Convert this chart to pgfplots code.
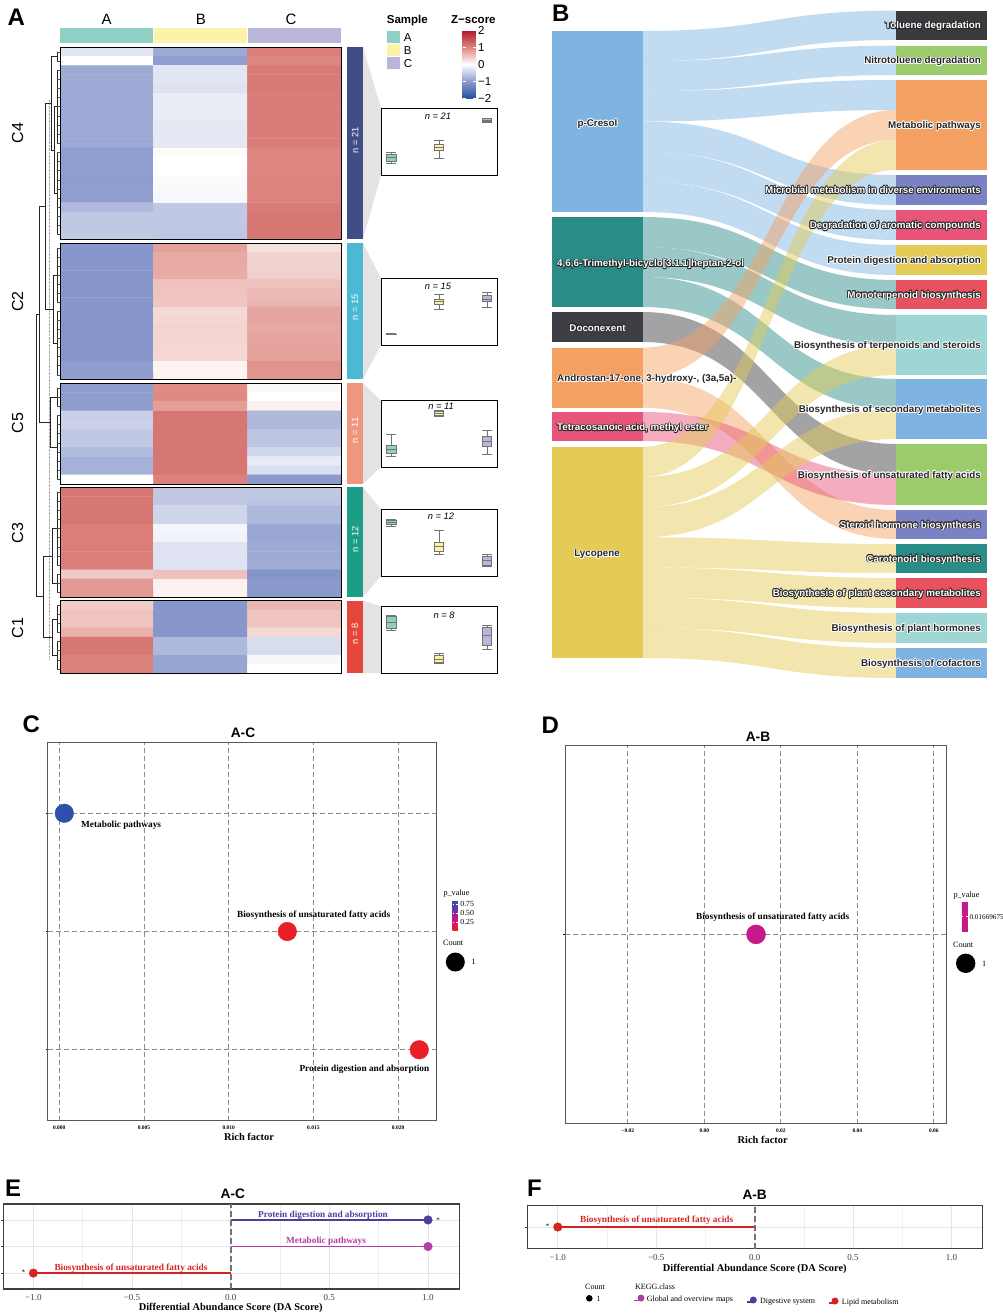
\documentclass[border=0pt]{standalone}
\usepackage{fontspec}
\setmainfont{Liberation Sans}
\newfontfamily\tnr{Liberation Serif}
\usepackage{pgfplots}
\pgfplotsset{compat=1.18}
\usepgfplotslibrary{statistics}

% heatmap / annotation colours
\definecolor{cA}{RGB}{142,208,196}
\definecolor{cB}{RGB}{252,243,168}
\definecolor{cC}{RGB}{186,182,218}
\definecolor{k4}{RGB}{65,78,134}
\definecolor{k2}{RGB}{76,185,212}
\definecolor{k5}{RGB}{240,149,126}
\definecolor{k3}{RGB}{27,158,133}
\definecolor{k1}{RGB}{229,71,58}
% sankey colours
\definecolor{sBlue}{RGB}{126,179,226}
\definecolor{sTeal}{RGB}{42,140,135}
\definecolor{sDark}{RGB}{62,63,69}
\definecolor{sOrange}{RGB}{244,160,98}
\definecolor{sPink}{RGB}{232,84,122}
\definecolor{sYellow}{RGB}{227,203,85}
\definecolor{sGreen}{RGB}{156,203,108}
\definecolor{sPurple}{RGB}{123,130,195}
\definecolor{sRed}{RGB}{232,82,95}
\definecolor{sCyan}{RGB}{158,214,214}
\definecolor{sTol}{RGB}{58,58,62}
% lollipop colours
\definecolor{lP}{RGB}{74,63,160}
\definecolor{lM}{RGB}{180,60,166}
\definecolor{lL}{RGB}{212,35,35}
\definecolor{cMg}{RGB}{200,25,138}

\pgfplotsset{
  colormap={zs}{rgb255=(33,80,160) rgb255=(140,155,205) rgb255=(255,255,255) rgb255=(222,135,128) rgb255=(178,24,43)},
  colormap={pv}{rgb255=(232,30,40) rgb255=(205,20,130) rgb255=(110,50,160) rgb255=(45,80,170)},
  pix/.style={at={(0pt,0pt)}, anchor=north west, scale only axis, width=1003pt, height=1315pt,
    xmin=0, xmax=1003, ymin=-1315, ymax=0, hide axis, clip=false, enlargelimits=false},
  hm/.style={anchor=north west, scale only axis, width=281pt, xmin=-0.5, xmax=2.5, ymax=-0.5,
    xtick=\empty, ytick=\empty, enlargelimits=false, axis on top,
    axis line style={black, line width=1pt}, colormap name=zs, point meta min=-2, point meta max=2},
  bx/.style={anchor=south west, scale only axis, width=116pt, xmin=0.79, xmax=3.21, ymin=0,
    xtick=\empty, ytick=\empty, enlargelimits=false, axis line style={black, line width=1pt}, clip=false,
    boxplot/draw direction=y, boxplot/box extend=0.2, boxplot/whisker extend=0.2},
  hmplot/.style={matrix plot*, mesh/cols=3, point meta=explicit},
  dd/.style={black!85, line width=0.6pt},
}

\newcommand{\rect}[5]{\addplot[fill=#5, draw=none] coordinates {(#1,-#2) (#3,-#2) (#3,-#4) (#1,-#4)} -- cycle;}
\newcommand{\rib}[5]{\fill[#5, fill opacity=0.48] (axis cs:642.5,-#1) .. controls (axis cs:770,-#1) and (axis cs:770,-#3) .. (axis cs:896,-#3) -- (axis cs:896,-#4) .. controls (axis cs:770,-#4) and (axis cs:770,-#2) .. (axis cs:642.5,-#2) -- cycle;}
\newcommand{\trap}[4]{\addplot[fill=black!11, draw=none] coordinates {(363,-#1) (381,-#3) (381,-#4) (363,-#2)} -- cycle;}
\newcommand{\bp}[7]{\addplot[draw=black!55, line width=0.6pt, fill=#7, boxplot prepared={draw position=#1, lower whisker=#2, lower quartile=#3, median=#4, upper quartile=#5, upper whisker=#6}] coordinates {};}
\newcommand{\sk}{\fontsize{9.8}{11}\selectfont\bfseries}
\newcommand{\halo}[6]{%
  \foreach \a in {0,30,...,330}{%
    \node[font=\sk, text=#4, anchor=#3, inner sep=0pt, shift={(\a:0.7pt)}] at (#1pt,-#2pt) {#6};}%
  \node[font=\sk, text=#5, anchor=#3, inner sep=0pt] at (#1pt,-#2pt) {#6};}

\begin{document}
\begin{tikzpicture}
\useasboundingbox (0,0) rectangle (1003pt,-1315pt);

% ---------- pixel layer: dendrogram, annotations, sankey ----------
\begin{axis}[pix]
% dendrogram
\addplot[black!35, line width=0.4pt, densely dotted] coordinates {(49,-100) (49,-660)};
\addplot[dd] coordinates {(57,-51.9) (57,-61.0)};
\addplot[dd] coordinates {(57,-70.1) (57,-143.3)};
\addplot[dd] coordinates {(57,-152.4) (57,-234.7)};
\addplot[dd] coordinates {(57,-247.8) (57,-302.3)};
\addplot[dd] coordinates {(57,-311.3) (57,-374.8)};
\addplot[dd] coordinates {(57,-387.9) (57,-406.2)};
\addplot[dd] coordinates {(57,-415.3) (57,-479.4)};
\addplot[dd] coordinates {(57,-491.9) (57,-565.2)};
\addplot[dd] coordinates {(57,-574.3) (57,-592.7)};
\addplot[dd] coordinates {(57,-605.2) (57,-632.5)};
\addplot[dd] coordinates {(57,-641.6) (57,-668.8)};
\addplot[dd] coordinates {(57,-106.7) (54,-106.7) (54,-193.5) (57,-193.5)};
\addplot[dd] coordinates {(57,-56.5) (51,-56.5) (51,-150.1) (54,-150.1)};
\addplot[dd] coordinates {(57,-275.05) (53,-275.05) (53,-343.05) (57,-343.05)};
\addplot[dd] coordinates {(57,-397.05) (50,-397.05) (50,-447.35) (57,-447.35)};
\addplot[dd] coordinates {(57,-528.55) (52,-528.55) (52,-583.5) (57,-583.5)};
\addplot[dd] coordinates {(57,-618.85) (52,-618.85) (52,-655.2) (57,-655.2)};
\addplot[dd] coordinates {(51,-103.3) (45,-103.3) (45,-309) (53,-309)};
\addplot[dd] coordinates {(45,-206.2) (39,-206.2) (39,-422.2) (50,-422.2)};
\addplot[dd] coordinates {(52,-556) (43,-556) (43,-637) (52,-637)};
\addplot[dd] coordinates {(39,-314.2) (36,-314.2) (36,-596.5) (43,-596.5)};
\addplot[only marks, mark=-, mark size=1.6pt, black!70, mark options={line width=0.5pt}] coordinates {
(58.5,-51.9) (58.5,-61.0) (58.5,-70.1) (58.5,-79.3) (58.5,-88.4) (58.5,-97.6) (58.5,-106.7) (58.5,-115.9) (58.5,-125.0) (58.5,-134.1) (58.5,-143.3) (58.5,-152.4) (58.5,-161.6) (58.5,-170.7) (58.5,-179.9) (58.5,-189.0) (58.5,-198.1) (58.5,-207.3) (58.5,-216.4) (58.5,-225.6) (58.5,-234.7)
(58.5,-247.8) (58.5,-256.9) (58.5,-266.0) (58.5,-275.1) (58.5,-284.1) (58.5,-293.2) (58.5,-302.3) (58.5,-311.3) (58.5,-320.4) (58.5,-329.5) (58.5,-338.5) (58.5,-347.6) (58.5,-356.7) (58.5,-365.7) (58.5,-374.8)
(58.5,-387.9) (58.5,-397.0) (58.5,-406.2) (58.5,-415.3) (58.5,-424.5) (58.5,-433.6) (58.5,-442.8) (58.5,-452.0) (58.5,-461.1) (58.5,-470.3) (58.5,-479.4)
(58.5,-491.9) (58.5,-501.1) (58.5,-510.2) (58.5,-519.4) (58.5,-528.5) (58.5,-537.7) (58.5,-546.9) (58.5,-556.0) (58.5,-565.2) (58.5,-574.3) (58.5,-583.5) (58.5,-592.7)
(58.5,-605.2) (58.5,-614.3) (58.5,-623.4) (58.5,-632.5) (58.5,-641.6) (58.5,-650.7) (58.5,-659.8) (58.5,-668.8)};
% column annotation
\rect{60.3}{28.3}{152.7}{43.3}{cA}
\rect{154}{28.3}{246.7}{43.3}{cB}
\rect{248}{28.3}{340.5}{43.3}{cC}
% row annotation
\rect{346.7}{47.3}{362.7}{239.3}{k4}
\rect{346.7}{243.3}{362.7}{379.3}{k2}
\rect{346.7}{383.3}{362.7}{484}{k5}
\rect{346.7}{487.3}{362.7}{597.3}{k3}
\rect{346.7}{600.7}{362.7}{673.3}{k1}
\trap{47.3}{239.3}{108.3}{175}
\trap{243.3}{379.3}{278.3}{345}
\trap{383.3}{484}{400.7}{467}
\trap{487.3}{597.3}{509.3}{576}
\trap{600.7}{673.3}{606.3}{673}
% sankey ribbons
\rib{31}{61.2}{10.7}{40}{sBlue}
\rib{61.2}{91.3}{45.7}{75}{sBlue}
\rib{91.3}{121.5}{80}{110}{sBlue}
\rib{121.5}{151.7}{175}{205}{sBlue}
\rib{151.7}{181.8}{210}{240}{sBlue}
\rib{181.8}{212}{245}{275}{sBlue}
\rib{217}{247}{280}{309}{sTeal}
\rib{247}{277}{315}{345}{sTeal}
\rib{277}{307}{379}{409}{sTeal}
\rib{312}{342}{444}{474.5}{sDark}
\rib{347.7}{377.7}{110}{140}{sOrange}
\rib{377.7}{407.7}{510}{539}{sOrange}
\rib{412}{441}{474.5}{505}{sPink}
\rib{446.7}{476.9}{140}{170}{sYellow}
\rib{476.9}{507.1}{345}{375}{sYellow}
\rib{507.1}{537.2}{409}{439}{sYellow}
\rib{537.2}{567.4}{544}{573}{sYellow}
\rib{567.4}{597.6}{578}{608}{sYellow}
\rib{597.6}{627.8}{613}{643}{sYellow}
\rib{627.8}{658}{648}{678}{sYellow}
% sankey nodes
\rect{552.3}{31}{642.5}{212}{sBlue}
\rect{552.3}{217}{642.5}{307}{sTeal}
\rect{552.3}{312}{642.5}{342}{sDark}
\rect{552.3}{347.7}{642.5}{407.7}{sOrange}
\rect{552.3}{412}{642.5}{441}{sPink}
\rect{552.3}{446.7}{642.5}{658}{sYellow}
\rect{896}{10.7}{987}{40}{sTol}
\rect{896}{45.7}{987}{75}{sGreen}
\rect{896}{80}{987}{170}{sOrange}
\rect{896}{175}{987}{205}{sPurple}
\rect{896}{210}{987}{240}{sPink}
\rect{896}{245}{987}{275}{sYellow}
\rect{896}{280}{987}{309}{sRed}
\rect{896}{315}{987}{375}{sCyan}
\rect{896}{379}{987}{439}{sBlue}
\rect{896}{444}{987}{505}{sGreen}
\rect{896}{510}{987}{539}{sPurple}
\rect{896}{544}{987}{573}{sTeal}
\rect{896}{578}{987}{608}{sRed}
\rect{896}{613}{987}{643}{sCyan}
\rect{896}{648}{987}{678}{sBlue}
\end{axis}

% ---------- heatmap blocks ----------
\begin{axis}[hm, at={(60pt,-47.3pt)}, height=192pt, ymin=-21.5,
  colorbar, colorbar style={at={(parent axis.north east)}, anchor=north west, xshift=113pt, yshift=16.8pt,
    width=13pt, height=68pt, scale only axis, ytick={-2,-1,0,1,2}, yticklabels={−2,−1,0,1,2},
    ytick pos=both, yticklabel pos=right, axis line style={draw=none}, ytick style={draw=white, line width=0.8pt},
    major tick length=3pt, yticklabel style={font=\fontsize{11.5}{12}\selectfont, xshift=-1pt}}]
\addplot[hmplot] table[meta=c, row sep=\\] {x y c\\
0 -1 -0.25\\ 1 -1 -0.85\\ 2 -1 1.08\\
0 -2 0.00\\ 1 -2 -0.97\\ 2 -2 1.00\\
0 -3 -0.85\\ 1 -3 -0.25\\ 2 -3 1.12\\
0 -4 -0.85\\ 1 -4 -0.25\\ 2 -4 1.12\\
0 -5 -0.86\\ 1 -5 -0.28\\ 2 -5 1.12\\
0 -6 -0.86\\ 1 -6 -0.18\\ 2 -6 1.10\\
0 -7 -0.86\\ 1 -7 -0.18\\ 2 -7 1.10\\
0 -8 -0.86\\ 1 -8 -0.18\\ 2 -8 1.10\\
0 -9 -0.86\\ 1 -9 -0.22\\ 2 -9 1.10\\
0 -10 -0.86\\ 1 -10 -0.22\\ 2 -10 1.10\\
0 -11 -0.86\\ 1 -11 -0.22\\ 2 -11 1.10\\
0 -12 -0.97\\ 1 -12 0.03\\ 2 -12 1.02\\
0 -13 -0.97\\ 1 -13 0.00\\ 2 -13 1.00\\
0 -14 -0.97\\ 1 -14 0.00\\ 2 -14 1.02\\
0 -15 -0.99\\ 1 -15 -0.04\\ 2 -15 1.04\\
0 -16 -0.97\\ 1 -16 -0.05\\ 2 -16 1.04\\
0 -17 -0.97\\ 1 -17 -0.07\\ 2 -17 1.04\\
0 -18 -0.70\\ 1 -18 -0.55\\ 2 -18 1.12\\
0 -19 -0.55\\ 1 -19 -0.55\\ 2 -19 1.15\\
0 -20 -0.55\\ 1 -20 -0.55\\ 2 -20 1.15\\
0 -21 -0.55\\ 1 -21 -0.57\\ 2 -21 1.15\\
};
\end{axis}
\begin{axis}[hm, at={(60pt,-243.3pt)}, height=136pt, ymin=-15.5]
\addplot[hmplot] table[meta=c, row sep=\\] {x y c\\
0 -1 -1.05\\ 1 -1 0.78\\ 2 -1 0.25\\
0 -2 -1.05\\ 1 -2 0.72\\ 2 -2 0.38\\
0 -3 -1.05\\ 1 -3 0.72\\ 2 -3 0.38\\
0 -4 -1.05\\ 1 -4 0.70\\ 2 -4 0.40\\
0 -5 -1.05\\ 1 -5 0.52\\ 2 -5 0.52\\
0 -6 -1.05\\ 1 -6 0.50\\ 2 -6 0.57\\
0 -7 -1.05\\ 1 -7 0.48\\ 2 -7 0.60\\
0 -8 -1.05\\ 1 -8 0.32\\ 2 -8 0.75\\
0 -9 -1.05\\ 1 -9 0.34\\ 2 -9 0.75\\
0 -10 -1.05\\ 1 -10 0.36\\ 2 -10 0.72\\
0 -11 -1.05\\ 1 -11 0.36\\ 2 -11 0.75\\
0 -12 -1.05\\ 1 -12 0.34\\ 2 -12 0.77\\
0 -13 -1.05\\ 1 -13 0.34\\ 2 -13 0.77\\
0 -14 -0.98\\ 1 -14 0.10\\ 2 -14 0.90\\
0 -15 -0.98\\ 1 -15 0.10\\ 2 -15 0.90\\
};
\end{axis}
\begin{axis}[hm, at={(60pt,-383.3pt)}, height=100.7pt, ymin=-11.5]
\addplot[hmplot] table[meta=c, row sep=\\] {x y c\\
0 -1 -0.98\\ 1 -1 0.95\\ 2 -1 0.05\\
0 -2 -0.98\\ 1 -2 0.97\\ 2 -2 0.00\\
0 -3 -0.98\\ 1 -3 0.82\\ 2 -3 0.12\\
0 -4 -0.48\\ 1 -4 1.15\\ 2 -4 -0.70\\
0 -5 -0.45\\ 1 -5 1.15\\ 2 -5 -0.70\\
0 -6 -0.55\\ 1 -6 1.15\\ 2 -6 -0.58\\
0 -7 -0.55\\ 1 -7 1.15\\ 2 -7 -0.58\\
0 -8 -0.68\\ 1 -8 1.15\\ 2 -8 -0.40\\
0 -9 -0.78\\ 1 -9 1.15\\ 2 -9 -0.20\\
0 -10 -0.78\\ 1 -10 1.15\\ 2 -10 -0.32\\
0 -11 0.00\\ 1 -11 1.05\\ 2 -11 -1.00\\
};
\end{axis}
\begin{axis}[hm, at={(60pt,-487.3pt)}, height=110pt, ymin=-12.5]
\addplot[hmplot] table[meta=c, row sep=\\] {x y c\\
0 -1 1.15\\ 1 -1 -0.55\\ 2 -1 -0.55\\
0 -2 1.15\\ 1 -2 -0.55\\ 2 -2 -0.58\\
0 -3 1.15\\ 1 -3 -0.42\\ 2 -3 -0.70\\
0 -4 1.15\\ 1 -4 -0.42\\ 2 -4 -0.70\\
0 -5 1.08\\ 1 -5 -0.10\\ 2 -5 -0.88\\
0 -6 1.08\\ 1 -6 -0.12\\ 2 -6 -0.88\\
0 -7 1.08\\ 1 -7 -0.28\\ 2 -7 -0.85\\
0 -8 1.08\\ 1 -8 -0.28\\ 2 -8 -0.85\\
0 -9 1.08\\ 1 -9 -0.28\\ 2 -9 -0.83\\
0 -10 0.45\\ 1 -10 0.52\\ 2 -10 -1.08\\
0 -11 0.85\\ 1 -11 0.12\\ 2 -11 -1.02\\
0 -12 0.85\\ 1 -12 0.12\\ 2 -12 -1.02\\
};
\end{axis}
\begin{axis}[hm, at={(60pt,-600.7pt)}, height=72.6pt, ymin=-8.5]
\addplot[hmplot] table[meta=c, row sep=\\] {x y c\\
0 -1 0.42\\ 1 -1 -1.05\\ 2 -1 0.60\\
0 -2 0.50\\ 1 -2 -1.05\\ 2 -2 0.50\\
0 -3 0.50\\ 1 -3 -1.05\\ 2 -3 0.50\\
0 -4 0.65\\ 1 -4 -1.05\\ 2 -4 0.33\\
0 -5 1.15\\ 1 -5 -0.70\\ 2 -5 -0.33\\
0 -6 1.15\\ 1 -6 -0.70\\ 2 -6 -0.35\\
0 -7 1.05\\ 1 -7 -0.90\\ 2 -7 -0.07\\
0 -8 1.05\\ 1 -8 -0.90\\ 2 -8 0.00\\
};
\end{axis}

% ---------- cluster boxplots ----------
\begin{axis}[bx, at={(381pt,-175pt)}, height=66.7pt, ymax=66.7]
\bp{1}{12}{14}{17.5}{20.5}{22.5}{cA}
\bp{2}{16.3}{24.7}{27.5}{31}{35}{cB}
\bp{3}{53}{53.6}{55}{56.4}{57}{cC}
\end{axis}
\begin{axis}[bx, at={(381pt,-345pt)}, height=66.7pt, ymax=66.7]
\bp{1}{10.6}{10.8}{11}{11.2}{11.4}{cA}
\bp{2}{35.7}{41}{43.5}{46}{50.7}{cB}
\bp{3}{37.7}{43.3}{46}{49.3}{52.3}{cC}
\end{axis}
\begin{axis}[bx, at={(381pt,-467pt)}, height=66.3pt, ymax=66.3]
\bp{1}{11}{13.7}{18}{22}{32.7}{cA}
\bp{2}{50.5}{51.5}{53.5}{55.5}{56.5}{cB}
\bp{3}{13}{20.3}{25.3}{31}{37}{cC}
\end{axis}
\begin{axis}[bx, at={(381pt,-576pt)}, height=66.7pt, ymax=66.7]
\bp{1}{49.5}{51.7}{54}{56}{57}{cA}
\bp{2}{22}{24.3}{29.3}{34}{45.3}{cB}
\bp{3}{9.3}{11}{16}{19.3}{21.7}{cC}
\end{axis}
\begin{axis}[bx, at={(381pt,-673pt)}, height=66.7pt, ymax=66.7]
\bp{1}{43}{44.7}{50.3}{56.3}{57.3}{cA}
\bp{2}{9.7}{10.7}{13.7}{18}{19.7}{cB}
\bp{3}{24}{28}{38}{45.7}{48}{cC}
\end{axis}

% ---------- C: bubble plot A-C ----------
\begin{axis}[at={(47.7pt,-1120.7pt)}, anchor=south west, scale only axis, width=389pt, height=378.4pt,
  enlargelimits=false, xmin=-0.000685, xmax=0.02228, ymin=0.4, ymax=3.6, scaled x ticks=false,
  xtick={0,0.005,0.01,0.015,0.02}, xticklabels={0.000,0.005,0.010,0.015,0.020},
  ytick={1,2,3}, yticklabels={}, grid=major,
  grid style={draw=black!45, line width=0.9pt, dash pattern=on 5pt off 3pt},
  axis line style={draw=black!65, line width=0.9pt}, tick pos=left, tick align=outside,
  major tick length=2pt, xtick style={draw=none}, ytick style={draw=black, line width=0.6pt},
  xticklabel style={font=\tnr\bfseries\fontsize{5.5}{6}\selectfont},
  colormap name=pv, point meta min=0.028, point meta max=0.86,
  colorbar, colorbar style={at={(parent axis.north east)}, anchor=north west, xshift=7.3pt, yshift=-157.7pt,
    width=5.3pt, height=30pt, scale only axis, grid=none, scaled y ticks=false, ytick={0.25,0.5,0.75}, yticklabels={0.25,0.50,0.75},
    ytick pos=both, yticklabel pos=right, axis line style={draw=none}, ytick style={draw=white, line width=0.5pt},
    major tick length=1.5pt, tick align=inside, yticklabel style={font=\tnr\fontsize{7.8}{8}\selectfont, xshift=-1pt}}]
\addplot[scatter, only marks, mark=*, mark size=9.3pt, scatter src=explicit,
  scatter/use mapped color={draw=mapped color, fill=mapped color}] table[meta=p, row sep=\\] {x y p\\
0.000295 3 0.86\\
0.01346 2 0.028\\
0.02125 1 0.028\\
};
\end{axis}

% ---------- D: bubble plot A-B ----------
\begin{axis}[at={(565pt,-1123.7pt)}, anchor=south west, scale only axis, width=381.7pt, height=378.7pt,
  enlargelimits=false, xmin=-0.03642, xmax=0.06337, ymin=0.4, ymax=1.6, scaled x ticks=false,
  xtick={-0.02,0,0.02,0.04,0.06}, xticklabels={−0.02,0.00,0.02,0.04,0.06},
  ytick={1}, yticklabels={}, grid=major,
  grid style={draw=black!45, line width=0.9pt, dash pattern=on 5pt off 3pt},
  axis line style={draw=black!65, line width=0.9pt}, tick pos=left, tick align=outside,
  major tick length=2pt, xtick style={draw=none}, ytick style={draw=black, line width=0.6pt},
  xticklabel style={font=\tnr\bfseries\fontsize{5.5}{6}\selectfont},
  colormap={mg}{rgb255=(200,25,138) rgb255=(200,25,138)}, point meta min=0.0166, point meta max=0.0168,
  colorbar, colorbar style={at={(parent axis.north east)}, anchor=north west, xshift=6.6pt, yshift=-156.7pt,
    width=6pt, height=30pt, scale only axis, grid=none, scaled y ticks=false, ytick={0.0167}, yticklabels={0.01669675},
    ytick pos=both, yticklabel pos=right, axis line style={draw=none}, ytick style={draw=white, line width=0.5pt},
    major tick length=1.5pt, tick align=inside, yticklabel style={font=\tnr\fontsize{7.2}{8}\selectfont, xshift=-1.8pt}}]
\addplot[only marks, mark=*, mark size=9.5pt, color=cMg] coordinates {(0.01352,1)};
\end{axis}

% ---------- E: DA score A-C ----------
\begin{axis}[at={(3.3pt,-1289pt)}, anchor=south west, scale only axis, width=456pt, height=85pt,
  enlargelimits=false, xmin=-1.1525, xmax=1.1586, ymin=0.4, ymax=3.6,
  xtick={-1,-0.5,0,0.5,1}, xticklabels={−1.0,−0.5,0.0,0.5,1.0}, minor xtick={-0.75,-0.25,0.25,0.75},
  ytick={1,2,3}, yticklabels={}, grid=both,
  major grid style={draw=black!10, line width=0.8pt}, minor grid style={draw=black!6, line width=0.5pt},
  axis line style={draw=black!75, line width=1.2pt}, tick pos=left, tick align=outside,
  major tick length=2pt, minor tick length=0pt, xtick style={draw=none}, ytick style={draw=black!75, line width=0.6pt},
  xticklabel style={font=\tnr\fontsize{9}{9}\selectfont, text=black!75}]
\addplot[lP, line width=1.2pt] coordinates {(0,3) (1,3)};
\addplot[lM, line width=1.2pt] coordinates {(0,2) (1,2)};
\addplot[lL, line width=1.2pt] coordinates {(0,1) (-1,1)};
\addplot[black!55, line width=2pt, dash pattern=on 6pt off 3pt] coordinates {(0,0.4) (0,3.6)};
\addplot[lP, only marks, mark=*, mark size=4.3pt] coordinates {(1,3)};
\addplot[lM, only marks, mark=*, mark size=4.3pt] coordinates {(1,2)};
\addplot[lL, only marks, mark=*, mark size=4.3pt] coordinates {(-1,1)};
\end{axis}

% ---------- F: DA score A-B ----------
\begin{axis}[at={(527.3pt,-1248.7pt)}, anchor=south west, scale only axis, width=455.4pt, height=43.4pt,
  enlargelimits=false, xmin=-1.155, xmax=1.1585, ymin=0.4, ymax=1.6,
  xtick={-1,-0.5,0,0.5,1}, xticklabels={−1.0,−0.5,0.0,0.5,1.0}, minor xtick={-0.75,-0.25,0.25,0.75},
  ytick={1}, yticklabels={}, grid=both,
  major grid style={draw=black!10, line width=0.8pt}, minor grid style={draw=black!6, line width=0.5pt},
  axis line style={draw=black!75, line width=1.2pt}, tick pos=left, tick align=outside,
  major tick length=2pt, minor tick length=0pt, xtick style={draw=none}, ytick style={draw=black!75, line width=0.6pt},
  xticklabel style={font=\tnr\fontsize{9}{9}\selectfont, text=black!75}]
\addplot[lL, line width=1.2pt] coordinates {(0,1) (-1,1)};
\addplot[black!55, line width=2pt, dash pattern=on 6pt off 3pt] coordinates {(0,0.4) (0,1.6)};
\addplot[lL, only marks, mark=*, mark size=4.3pt] coordinates {(-1,1)};
\end{axis}

% ---------- text layer ----------
\begin{scope}[every node/.style={inner sep=0pt}]
% panel letters
\node[anchor=base west, font=\fontsize{24}{24}\selectfont\bfseries] at (7.5pt,-25.3pt) {A};
\node[anchor=base west, font=\fontsize{24}{24}\selectfont\bfseries] at (552pt,-21.7pt) {B};
\node[anchor=base west, font=\fontsize{24}{24}\selectfont\bfseries] at (22.5pt,-732.5pt) {C};
\node[anchor=base west, font=\fontsize{24}{24}\selectfont\bfseries] at (541.5pt,-733pt) {D};
\node[anchor=base west, font=\fontsize{24}{24}\selectfont\bfseries] at (5pt,-1196pt) {E};
\node[anchor=base west, font=\fontsize{24}{24}\selectfont\bfseries] at (527pt,-1196pt) {F};
% heatmap labels
\node[anchor=base, font=\fontsize{15}{15}\selectfont] at (106.7pt,-24pt) {A};
\node[anchor=base, font=\fontsize{15}{15}\selectfont] at (201pt,-24pt) {B};
\node[anchor=base, font=\fontsize{15}{15}\selectfont] at (291pt,-24pt) {C};
\node[rotate=90, font=\fontsize{16}{16}\selectfont] at (17.5pt,-133pt) {C4};
\node[rotate=90, font=\fontsize{16}{16}\selectfont] at (17.5pt,-301.7pt) {C2};
\node[rotate=90, font=\fontsize{16}{16}\selectfont] at (17.5pt,-423pt) {C5};
\node[rotate=90, font=\fontsize{16}{16}\selectfont] at (17.5pt,-533pt) {C3};
\node[rotate=90, font=\fontsize{16}{16}\selectfont] at (17.5pt,-628pt) {C1};
\node[rotate=90, text=white, font=\fontsize{9.3}{10}\selectfont] at (355pt,-140pt) {n = 21};
\node[rotate=90, text=white, font=\fontsize{9.3}{10}\selectfont] at (355pt,-307.5pt) {n = 15};
\node[rotate=90, text=white, font=\fontsize{9.3}{10}\selectfont] at (355pt,-430.5pt) {n = 11};
\node[rotate=90, text=white, font=\fontsize{9.3}{10}\selectfont] at (355pt,-539pt) {n = 12};
\node[rotate=90, text=white, font=\fontsize{9.3}{10}\selectfont] at (355pt,-634pt) {n = 8};
\node[font=\fontsize{9.3}{10}\selectfont\itshape] at (438pt,-116pt) {n = 21};
\node[font=\fontsize{9.3}{10}\selectfont\itshape] at (438pt,-286pt) {n = 15};
\node[font=\fontsize{9.3}{10}\selectfont\itshape] at (441pt,-406pt) {n = 11};
\node[font=\fontsize{9.3}{10}\selectfont\itshape] at (441pt,-516.7pt) {n = 12};
\node[font=\fontsize{9.3}{10}\selectfont\itshape] at (444pt,-615pt) {n = 8};
% heatmap legends
\node[anchor=base west, font=\fontsize{11.5}{12}\selectfont\bfseries] at (386.7pt,-23pt) {Sample};
\node[anchor=base west, font=\fontsize{11.5}{12}\selectfont\bfseries] at (451pt,-23pt) {Z−score};
\fill[cA] (387pt,-30.7pt) rectangle (400pt,-42.7pt);
\fill[cB] (387pt,-43.7pt) rectangle (400pt,-56pt);
\fill[cC] (387pt,-57pt) rectangle (400pt,-69.3pt);
\node[anchor=base west, font=\fontsize{11.5}{12}\selectfont] at (403.7pt,-41.1pt) {A};
\node[anchor=base west, font=\fontsize{11.5}{12}\selectfont] at (403.7pt,-54.1pt) {B};
\node[anchor=base west, font=\fontsize{11.5}{12}\selectfont] at (403.7pt,-67.1pt) {C};
\end{scope}
% sankey labels
\halo{981}{28.9}{base east}{black!85}{white}{Toluene degradation}
\halo{981}{63.9}{base east}{white}{black!85}{Nitrotoluene degradation}
\halo{981}{128.5}{base east}{white}{black!85}{Metabolic pathways}
\halo{981}{193.5}{base east}{black!85}{white}{Microbial metabolism in diverse environments}
\halo{981}{228.5}{base east}{black!85}{white}{Degradation of aromatic compounds}
\halo{981}{263.5}{base east}{white}{black!85}{Protein digestion and absorption}
\halo{981}{298}{base east}{black!85}{white}{Monoterpenoid biosynthesis}
\halo{981}{348.5}{base east}{white}{black!85}{Biosynthesis of terpenoids and steroids}
\halo{981}{412.5}{base east}{white}{black!85}{Biosynthesis of secondary metabolites}
\halo{981}{478}{base east}{white}{black!85}{Biosynthesis of unsaturated fatty acids}
\halo{981}{528}{base east}{black!85}{white}{Steroid hormone biosynthesis}
\halo{981}{562}{base east}{black!85}{white}{Carotenoid biosynthesis}
\halo{981}{596.5}{base east}{black!85}{white}{Biosynthesis of plant secondary metabolites}
\halo{981}{631.5}{base east}{white}{black!85}{Biosynthesis of plant hormones}
\halo{981}{666.5}{base east}{white}{black!85}{Biosynthesis of cofactors}
\halo{597.5}{126.5}{base}{white}{black!85}{p-Cresol}
\halo{557}{266.8}{base west}{black!85}{white}{4,6,6-Trimethyl-bicyclo[3.1.1]heptan-2-ol}
\halo{597.5}{331.2}{base}{black!85}{white}{Doconexent}
\halo{557}{381.8}{base west}{white}{black!85}{Androstan-17-one, 3-hydroxy-, (3a,5a)-}
\halo{557}{430.8}{base west}{black!85}{white}{Tetracosanoic acid, methyl ester}
\halo{597}{556.8}{base}{white}{black!85}{Lycopene}
\begin{scope}[every node/.style={inner sep=0pt}]
% C / D texts
\node[anchor=base, font=\fontsize{13.7}{14}\selectfont\bfseries] at (243pt,-737.9pt) {A-C};
\node[anchor=base, font=\fontsize{13.7}{14}\selectfont\bfseries] at (758pt,-741.6pt) {A-B};
\node[anchor=base, font=\tnr\fontsize{10.4}{11}\selectfont\bfseries] at (249pt,-1140.7pt) {Rich factor};
\node[anchor=base, font=\tnr\fontsize{10.4}{11}\selectfont\bfseries] at (762.7pt,-1143.5pt) {Rich factor};
\node[anchor=base west, font=\tnr\fontsize{9.3}{10}\selectfont\bfseries] at (81pt,-827.8pt) {Metabolic pathways};
\node[anchor=base west, font=\tnr\fontsize{9.3}{10}\selectfont\bfseries] at (237pt,-917.8pt) {Biosynthesis of unsaturated fatty acids};
\node[anchor=base west, font=\tnr\fontsize{9.3}{10}\selectfont\bfseries] at (299.3pt,-1071.4pt) {Protein digestion and absorption};
\node[anchor=base west, font=\tnr\fontsize{9.3}{10}\selectfont\bfseries] at (696pt,-919.8pt) {Biosynthesis of unsaturated fatty acids};
\node[anchor=base west, font=\tnr\fontsize{8.2}{9}\selectfont] at (443.3pt,-895pt) {p\_value};
\node[anchor=base west, font=\tnr\fontsize{8.2}{9}\selectfont] at (443pt,-945pt) {Count};
\fill[black] (455.3pt,-962pt) circle (9.5pt);
\node[anchor=base west, font=\tnr\fontsize{8.2}{9}\selectfont] at (471.5pt,-964pt) {1};
\node[anchor=base west, font=\tnr\fontsize{8.2}{9}\selectfont] at (953.3pt,-897pt) {p\_value};
\node[anchor=base west, font=\tnr\fontsize{8.2}{9}\selectfont] at (953pt,-947pt) {Count};
\fill[black] (965.7pt,-963.3pt) circle (9.7pt);
\node[anchor=base west, font=\tnr\fontsize{8.2}{9}\selectfont] at (982pt,-966pt) {1};
% E / F texts
\node[anchor=base, font=\fontsize{13.7}{14}\selectfont\bfseries] at (232.8pt,-1198.2pt) {A-C};
\node[anchor=base, font=\fontsize{13.7}{14}\selectfont\bfseries] at (754.7pt,-1199.3pt) {A-B};
\node[anchor=base, font=\tnr\fontsize{10.4}{11}\selectfont\bfseries] at (230.7pt,-1310.2pt) {Differential Abundance Score (DA Score)};
\node[anchor=base, font=\tnr\fontsize{10.4}{11}\selectfont\bfseries] at (754.8pt,-1271.8pt) {Differential Abundance Score (DA Score)};
\node[anchor=base, text=lP, font=\tnr\fontsize{9.3}{10}\selectfont\bfseries] at (323pt,-1217.4pt) {Protein digestion and absorption};
\node[anchor=base, text=lM, font=\tnr\fontsize{9.3}{10}\selectfont\bfseries] at (326pt,-1243.1pt) {Metabolic pathways};
\node[anchor=base west, text=lL, font=\tnr\fontsize{9.3}{10}\selectfont\bfseries] at (54.3pt,-1270.4pt) {Biosynthesis of unsaturated fatty acids};
\node[anchor=base west, text=lL, font=\tnr\fontsize{9.3}{10}\selectfont\bfseries] at (580pt,-1222.1pt) {Biosynthesis of unsaturated fatty acids};
\node[font=\tnr\fontsize{7}{7}\selectfont] at (438pt,-1220pt) {*};
\node[font=\tnr\fontsize{7}{7}\selectfont] at (23.3pt,-1272pt) {*};
\node[font=\tnr\fontsize{7}{7}\selectfont] at (547.7pt,-1226pt) {*};
% F legend
\node[anchor=base west, font=\tnr\fontsize{8}{9}\selectfont] at (585pt,-1289pt) {Count};
\fill[black] (589.3pt,-1298.3pt) circle (3.3pt);
\node[anchor=base west, font=\tnr\fontsize{8}{9}\selectfont] at (596.5pt,-1301pt) {1};
\node[anchor=base west, font=\tnr\fontsize{8}{9}\selectfont] at (635pt,-1289.8pt) {KEGG.class};
\draw[lM, line width=1.6pt] (634pt,-1300.5pt) -- (641pt,-1300.5pt);
\fill[lM] (641pt,-1298pt) circle (3.5pt);
\node[anchor=base west, font=\tnr\fontsize{8}{9}\selectfont] at (646.7pt,-1301.5pt) {Global and overview maps};
\draw[lP, line width=1.6pt] (746.5pt,-1302pt) -- (753.3pt,-1302pt);
\fill[lP] (753.3pt,-1300pt) circle (3.5pt);
\node[anchor=base west, font=\tnr\fontsize{8}{9}\selectfont] at (760pt,-1303pt) {Digestive system};
\draw[lL, line width=1.6pt] (828.5pt,-1303pt) -- (835pt,-1303pt);
\fill[lL] (835pt,-1301pt) circle (3.5pt);
\node[anchor=base west, font=\tnr\fontsize{8}{9}\selectfont] at (841.7pt,-1304pt) {Lipid metabolism};
\end{scope}
\end{tikzpicture}
\end{document}
